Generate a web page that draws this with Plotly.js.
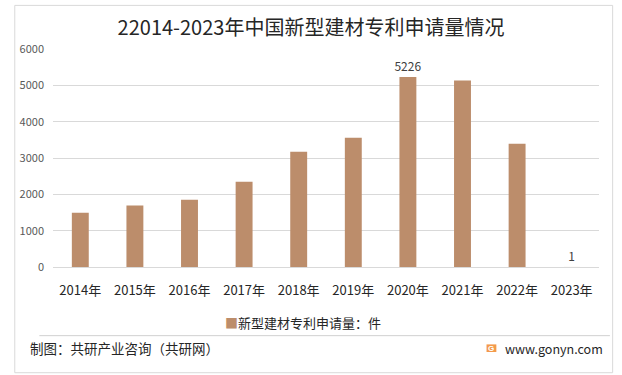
<!DOCTYPE html>
<html><head><meta charset="utf-8">
<script src="https://cdn.plot.ly/plotly-3.0.1.min.js"></script>
<style>html,body{margin:0;padding:0;background:#fff;}#chart{width:622px;height:375px;}</style>
</head><body><div id="chart"></div>
<script>
const years = ['2014年','2015年','2016年','2017年','2018年','2019年','2020年','2021年','2022年','2023年'];
const patents = [1495, 1695, 1850, 2345, 3170, 3555, 5226, 5135, 3390, 1];
const shownLabels = [false, false, false, false, false, false, true, false, false, true];
const seriesName = '新型建材专利申请量：件';
const yTicks = [0, 1000, 2000, 3000, 4000, 5000, 6000];

const font = '"Noto Sans CJK SC", "Microsoft YaHei", sans-serif';
const barColor = '#BC8D6B';
const trace = {
  type: 'bar', x: years, y: patents, name: seriesName,
  marker: {color: barColor},
  text: patents.map((v, i) => shownLabels[i] ? String(v) : ''),
  textposition: 'outside', cliponaxis: false, constraintext: 'none',
  textfont: {family: font, size: 12, color: '#404040'},
  hoverinfo: 'x+y'
};
const layout = {
  width: 622, height: 375,
  margin: {l: 53, r: 23, t: 49, b: 108},
  paper_bgcolor: '#fff', plot_bgcolor: '#fff',
  font: {family: font},
  title: {text: '22014-2023年中国新型建材专利申请量情况', x: 0.5, xanchor: 'center', y: 0.925, yanchor: 'middle',
          font: {family: font, size: 20, color: '#262626'}},
  bargap: 0.69,
  xaxis: {type: 'category', showgrid: false, zeroline: false, showline: false, ticks: '',
          tickfont: {family: font, size: 13, color: '#262626'}, ticklabelstandoff: 14},
  yaxis: {range: [0, 6000], tickvals: yTicks, ticktext: yTicks.map(String), showgrid: true,
          gridcolor: '#d9d9d9', gridwidth: 1, zeroline: true, zerolinecolor: '#d9d9d9', showline: false,
          tickfont: {family: font, size: 11, color: '#595959'}, ticklabelstandoff: 8},
  showlegend: false,
  shapes: [
    {type: 'rect', xref: 'paper', yref: 'paper', x0: -0.07, x1: 1.025, y0: -0.485, y1: 1.2,
     line: {color: '#d9d9d9', width: 1}, fillcolor: 'rgba(0,0,0,0)'},
    {type: 'line', xref: 'paper', yref: 'paper', x0: -0.025, x1: 1.02, y0: -0.315, y1: -0.315,
     line: {color: '#d0d0d0', width: 1}},
    {type: 'rect', xref: 'paper', yref: 'paper', x0: 0.794, x1: 0.812, y0: -0.39, y1: -0.355,
     line: {width: 0}, fillcolor: '#F39A4B'}
  ],
  annotations: [
    {xref: 'paper', yref: 'paper', x: 0.458, y: -0.255, xanchor: 'center', yanchor: 'middle', showarrow: false,
     text: '<span style="color:' + barColor + '">■</span>' + seriesName, font: {family: font, size: 13, color: '#262626'}},
    {xref: 'paper', yref: 'paper', x: -0.045, y: -0.372, xanchor: 'left', yanchor: 'middle', showarrow: false,
     text: '制图：共研产业咨询（共研网）', font: {family: font, size: 13.5, color: '#262626'}},
    {xref: 'paper', yref: 'paper', x: 0.803, y: -0.372, xanchor: 'center', yanchor: 'middle', showarrow: false,
     text: '<b>G</b>', font: {family: 'Arial', size: 8, color: '#ffffff'}},
    {xref: 'paper', yref: 'paper', x: 0.825, y: -0.372, xanchor: 'left', yanchor: 'middle', showarrow: false,
     text: 'www.gonyn.com', font: {family: font, size: 12.5, color: '#262626'}}
  ]
};
Plotly.newPlot('chart', [trace], layout, {displayModeBar: false, staticPlot: true});
</script></body></html>
